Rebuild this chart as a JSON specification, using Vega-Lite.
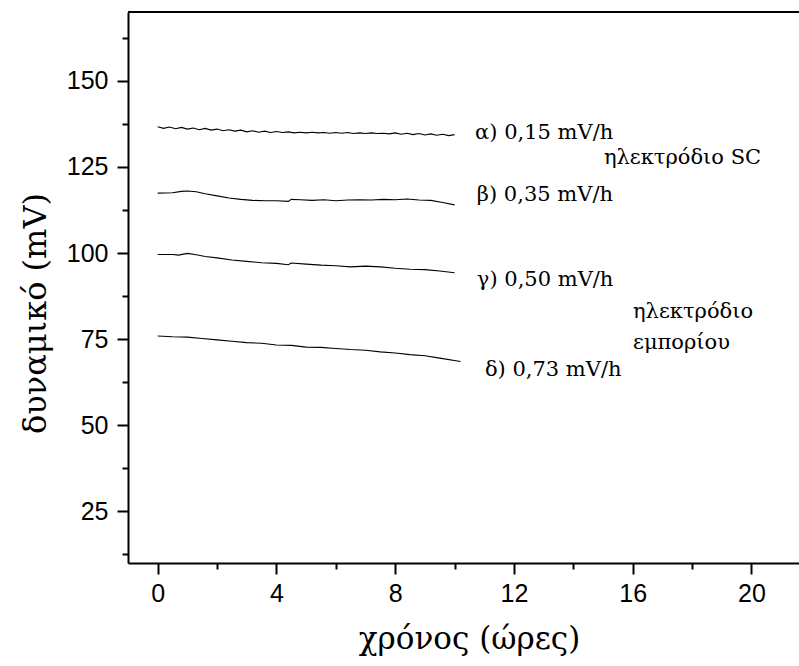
{
  "$schema": "https://vega.github.io/schema/vega-lite/v6.json",
  "width": 671,
  "height": 551,
  "autosize": {"type": "none"},
  "padding": {"left": 128, "top": 12, "right": 0, "bottom": 103},
  "background": "white",
  "config": {
    "view": {"stroke": null},
    "axis": {
      "grid": false,
      "domainColor": "black",
      "domainWidth": 2,
      "tickColor": "black",
      "tickWidth": 2,
      "labelFont": "Liberation Sans",
      "labelFontSize": 25,
      "labelColor": "black",
      "titleFont": "DejaVu Serif",
      "titleFontSize": 32,
      "titleFontWeight": "normal",
      "titleColor": "black"
    }
  },
  "datasets": {
    "curves": [
      {"s": "a", "t": 0.0, "v": 136.7}, {"s": "a", "t": 0.2, "v": 136.2}, {"s": "a", "t": 0.4, "v": 136.6}, {"s": "a", "t": 0.6, "v": 136.1}, {"s": "a", "t": 0.8, "v": 136.5},
      {"s": "a", "t": 1.0, "v": 136.0}, {"s": "a", "t": 1.2, "v": 136.3}, {"s": "a", "t": 1.4, "v": 135.8}, {"s": "a", "t": 1.6, "v": 136.2}, {"s": "a", "t": 1.8, "v": 135.7},
      {"s": "a", "t": 2.0, "v": 136.0}, {"s": "a", "t": 2.2, "v": 135.5}, {"s": "a", "t": 2.4, "v": 135.8}, {"s": "a", "t": 2.6, "v": 135.4}, {"s": "a", "t": 2.8, "v": 135.7},
      {"s": "a", "t": 3.0, "v": 135.2}, {"s": "a", "t": 3.2, "v": 135.5}, {"s": "a", "t": 3.4, "v": 135.1}, {"s": "a", "t": 3.6, "v": 135.4}, {"s": "a", "t": 3.8, "v": 135.0},
      {"s": "a", "t": 4.0, "v": 135.3}, {"s": "a", "t": 4.2, "v": 135.0}, {"s": "a", "t": 4.4, "v": 135.2}, {"s": "a", "t": 4.6, "v": 134.9}, {"s": "a", "t": 4.8, "v": 135.1},
      {"s": "a", "t": 5.0, "v": 134.9}, {"s": "a", "t": 5.2, "v": 135.1}, {"s": "a", "t": 5.4, "v": 134.9}, {"s": "a", "t": 5.6, "v": 135.0}, {"s": "a", "t": 5.8, "v": 134.8},
      {"s": "a", "t": 6.0, "v": 135.0}, {"s": "a", "t": 6.2, "v": 134.8}, {"s": "a", "t": 6.4, "v": 135.0}, {"s": "a", "t": 6.6, "v": 134.7}, {"s": "a", "t": 6.8, "v": 134.9},
      {"s": "a", "t": 7.0, "v": 134.7}, {"s": "a", "t": 7.2, "v": 134.9}, {"s": "a", "t": 7.4, "v": 134.7}, {"s": "a", "t": 7.6, "v": 134.8}, {"s": "a", "t": 7.8, "v": 134.6},
      {"s": "a", "t": 8.0, "v": 134.9}, {"s": "a", "t": 8.2, "v": 134.5}, {"s": "a", "t": 8.4, "v": 134.8}, {"s": "a", "t": 8.6, "v": 134.4}, {"s": "a", "t": 8.8, "v": 134.7},
      {"s": "a", "t": 9.0, "v": 134.3}, {"s": "a", "t": 9.2, "v": 134.6}, {"s": "a", "t": 9.4, "v": 134.2}, {"s": "a", "t": 9.6, "v": 134.5}, {"s": "a", "t": 9.8, "v": 134.1},
      {"s": "a", "t": 10.0, "v": 134.4},
      {"s": "b", "t": 0.0, "v": 117.4}, {"s": "b", "t": 0.5, "v": 117.5}, {"s": "b", "t": 0.8, "v": 117.9}, {"s": "b", "t": 1.0, "v": 118.0}, {"s": "b", "t": 1.3, "v": 117.8},
      {"s": "b", "t": 1.6, "v": 117.2}, {"s": "b", "t": 2.0, "v": 116.6}, {"s": "b", "t": 2.4, "v": 116.0}, {"s": "b", "t": 2.8, "v": 115.6}, {"s": "b", "t": 3.2, "v": 115.3},
      {"s": "b", "t": 3.6, "v": 115.2}, {"s": "b", "t": 4.0, "v": 115.2}, {"s": "b", "t": 4.4, "v": 115.0}, {"s": "b", "t": 4.5, "v": 115.6}, {"s": "b", "t": 4.8, "v": 115.5},
      {"s": "b", "t": 5.2, "v": 115.3}, {"s": "b", "t": 5.6, "v": 115.5}, {"s": "b", "t": 6.0, "v": 115.2}, {"s": "b", "t": 6.4, "v": 115.4}, {"s": "b", "t": 6.8, "v": 115.5},
      {"s": "b", "t": 7.2, "v": 115.4}, {"s": "b", "t": 7.6, "v": 115.6}, {"s": "b", "t": 8.0, "v": 115.5}, {"s": "b", "t": 8.4, "v": 115.7}, {"s": "b", "t": 8.8, "v": 115.4},
      {"s": "b", "t": 9.2, "v": 115.3}, {"s": "b", "t": 9.6, "v": 114.7}, {"s": "b", "t": 10.0, "v": 114.0},
      {"s": "c", "t": 0.0, "v": 99.6}, {"s": "c", "t": 0.5, "v": 99.6}, {"s": "c", "t": 0.7, "v": 99.4}, {"s": "c", "t": 1.0, "v": 99.9}, {"s": "c", "t": 1.3, "v": 99.5},
      {"s": "c", "t": 1.6, "v": 99.0}, {"s": "c", "t": 2.0, "v": 98.6}, {"s": "c", "t": 2.5, "v": 98.0}, {"s": "c", "t": 3.0, "v": 97.6}, {"s": "c", "t": 3.5, "v": 97.2},
      {"s": "c", "t": 4.0, "v": 97.0}, {"s": "c", "t": 4.4, "v": 96.6}, {"s": "c", "t": 4.5, "v": 97.1}, {"s": "c", "t": 5.0, "v": 96.8}, {"s": "c", "t": 5.5, "v": 96.5},
      {"s": "c", "t": 6.0, "v": 96.3}, {"s": "c", "t": 6.5, "v": 96.0}, {"s": "c", "t": 7.0, "v": 96.2}, {"s": "c", "t": 7.5, "v": 96.0}, {"s": "c", "t": 8.0, "v": 95.6},
      {"s": "c", "t": 8.5, "v": 95.3}, {"s": "c", "t": 9.0, "v": 95.2}, {"s": "c", "t": 9.5, "v": 94.8}, {"s": "c", "t": 10.0, "v": 94.3},
      {"s": "d", "t": 0.0, "v": 75.9}, {"s": "d", "t": 0.5, "v": 75.7}, {"s": "d", "t": 1.0, "v": 75.6}, {"s": "d", "t": 1.5, "v": 75.2}, {"s": "d", "t": 2.0, "v": 74.8},
      {"s": "d", "t": 2.5, "v": 74.4}, {"s": "d", "t": 3.0, "v": 74.0}, {"s": "d", "t": 3.5, "v": 73.8}, {"s": "d", "t": 4.0, "v": 73.3}, {"s": "d", "t": 4.5, "v": 73.2},
      {"s": "d", "t": 5.0, "v": 72.7}, {"s": "d", "t": 5.5, "v": 72.6}, {"s": "d", "t": 6.0, "v": 72.3}, {"s": "d", "t": 6.5, "v": 72.0}, {"s": "d", "t": 7.0, "v": 71.8},
      {"s": "d", "t": 7.5, "v": 71.3}, {"s": "d", "t": 8.0, "v": 71.0}, {"s": "d", "t": 8.5, "v": 70.5}, {"s": "d", "t": 9.0, "v": 70.2}, {"s": "d", "t": 9.5, "v": 69.5},
      {"s": "d", "t": 10.2, "v": 68.5}
    ],
    "labels": [
      {"t": 10.69, "v": 134.9, "txt": "α) 0,15 mV/h"},
      {"t": 15.03, "v": 127.6, "txt": "ηλεκτρόδιο SC"},
      {"t": 10.75, "v": 116.9, "txt": "β) 0,35 mV/h"},
      {"t": 10.75, "v": 92.2, "txt": "γ) 0,50 mV/h"},
      {"t": 16.01, "v": 82.9, "txt": "ηλεκτρόδιο"},
      {"t": 16.01, "v": 73.9, "txt": "εμπορίου"},
      {"t": 11.02, "v": 66.1, "txt": "δ) 0,73 mV/h"}
    ]
  },
  "layer": [
    {
      "data": {"name": "curves"},
      "mark": {"type": "line", "color": "black", "strokeWidth": 1.1},
      "encoding": {
        "x": {
          "field": "t", "type": "quantitative",
          "scale": {"domain": [-1, 21.6], "nice": false, "zero": false},
          "axis": {
            "title": "χρόνος (ώρες)",
            "titleFontSize": 31,
            "titleX": 341,
            "values": [0, 2, 4, 6, 8, 10, 12, 14, 16, 18, 20],
            "labelExpr": "datum.value % 4 === 0 ? datum.label : ''",
            "tickSize": {"condition": {"test": "datum.value % 4 === 0", "value": 11}, "value": 6},
            "labelPadding": 7,
            "titlePadding": 18,
            "labelFlush": false,
            "labelOverlap": false
          }
        },
        "y": {
          "field": "v", "type": "quantitative",
          "scale": {"domain": [10, 170], "nice": false, "zero": false},
          "axis": {
            "title": "δυναμικό (mV)",
            "values": [12.5, 25, 37.5, 50, 62.5, 75, 87.5, 100, 112.5, 125, 137.5, 150, 162.5],
            "labelExpr": "datum.value % 25 === 0 ? datum.label : ''",
            "tickSize": {"condition": {"test": "datum.value % 25 === 0", "value": 11}, "value": 6},
            "labelPadding": 9,
            "titlePadding": 14,
            "titleY": 301,
            "labelFlush": false,
            "labelOverlap": false
          }
        },
        "detail": {"field": "s"}
      }
    },
    {
      "data": {"name": "labels"},
      "mark": {"type": "text", "font": "DejaVu Serif", "fontSize": 21, "align": "left", "baseline": "middle", "color": "black"},
      "encoding": {
        "x": {"field": "t", "type": "quantitative"},
        "y": {"field": "v", "type": "quantitative"},
        "text": {"field": "txt"}
      }
    },
    {
      "data": {"values": [{}]},
      "mark": {"type": "rule", "color": "black", "strokeWidth": 2},
      "encoding": {"y": {"datum": 170}}
    }
  ]
}
